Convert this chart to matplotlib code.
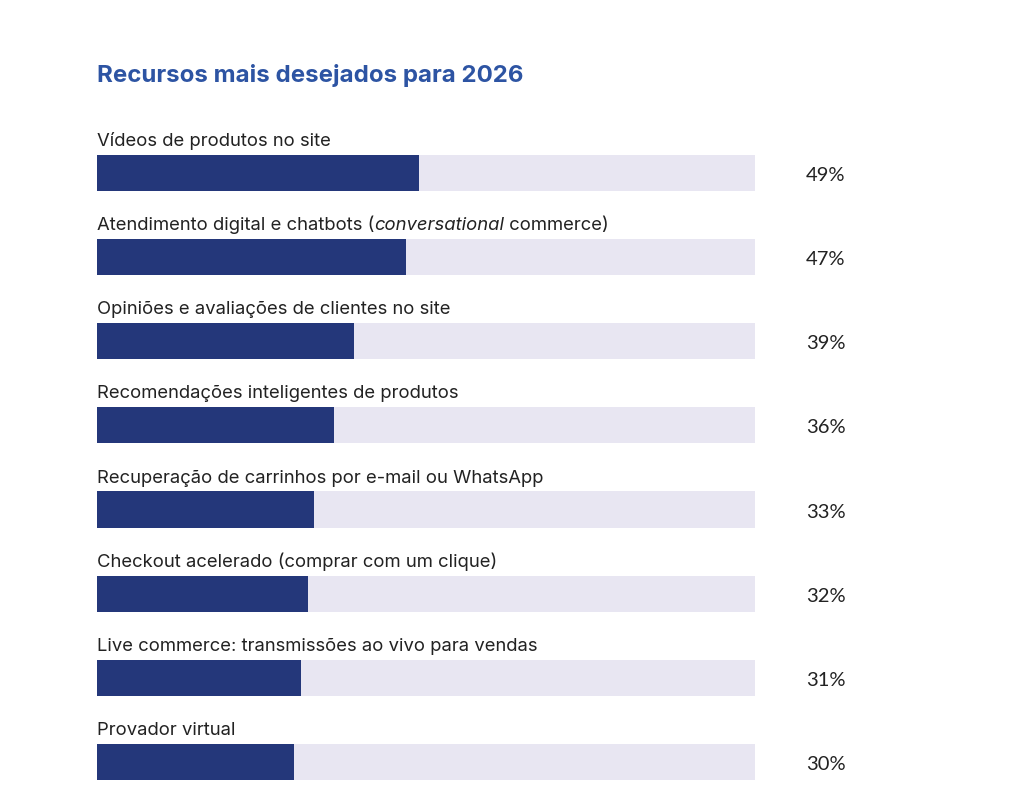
import matplotlib.pyplot as plt

# dados
recursos = [
    'Vídeos de produtos no site',
    'Atendimento digital e chatbots (conversational commerce)',
    'Opiniões e avaliações de clientes no site',
    'Recomendações inteligentes de produtos',
    'Recuperação de carrinhos por e-mail ou WhatsApp',
    'Checkout acelerado (comprar com um clique)',
    'Live commerce: transmissões ao vivo para vendas',
    'Provador virtual',
]
valores = [49, 47, 39, 36, 33, 32, 31, 30]
titulo = 'Recursos mais desejados para 2026'

cor_barra = '#24377a'
cor_fundo = '#e8e6f2'
cor_titulo = '#2d54a3'
cor_texto = '#222222'
fonte = 'Inter'

fig = plt.figure(figsize=(10.24, 7.96), dpi=100)
ax = fig.add_axes([97/1024, 1-787.2/796, 658/1024, (787.2-88.86)/796])

n = len(valores)
pos = list(range(n))
h = 0.43
ax.barh(pos, [100]*n, height=h, color=cor_fundo, zorder=1)
ax.barh(pos, valores, height=h, color=cor_barra, zorder=2)

ax.set_xlim(0, 100)
ax.set_ylim(7.3, -1.0)
ax.axis('off')

fs = 13.3
renderer = fig.canvas.get_renderer()
for i, (r, v) in enumerate(zip(recursos, valores)):
    yb = i - 0.32
    if '(conversational commerce)' in r:
        partes = [('Atendimento digital e chatbots (', 'normal'),
                  ('conversational', 'italic'),
                  (' commerce)', 'normal')]
        x = 0
        for txt, st in partes:
            t = ax.text(x, yb, txt, fontsize=fs, family=fonte, style=st,
                        color=cor_texto, va='baseline', ha='left')
            bb = t.get_window_extent(renderer)
            x = ax.transData.inverted().transform((bb.x1, 0))[0]
    else:
        ax.text(0, yb, r, fontsize=fs, family=fonte, color=cor_texto,
                va='baseline', ha='left')
    ax.text(107.7, i + 0.03, '%d%%' % v, fontsize=14.5, family='Lato',
            color=cor_texto, va='center', ha='left')

fig.text(97/1024, 1-82/796, titulo, fontsize=17.3, family=fonte,
         weight='bold', color=cor_titulo, va='baseline', ha='left')

fig.savefig('out.png', dpi=100)
